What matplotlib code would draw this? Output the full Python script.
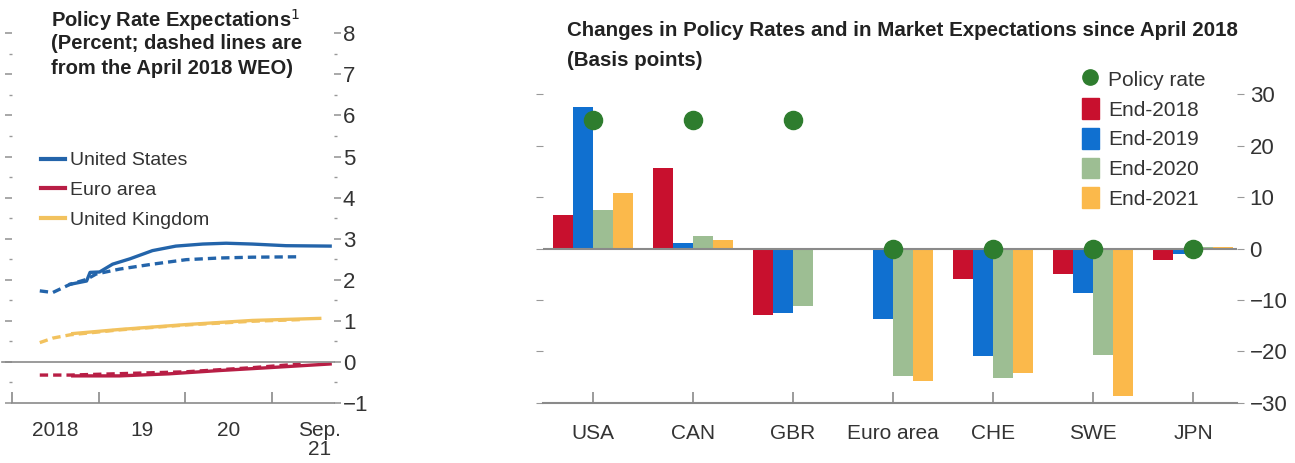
import matplotlib
matplotlib.use("Agg")
import matplotlib.pyplot as plt
from matplotlib.lines import Line2D
from matplotlib.patches import Patch

plt.rcParams['font.family'] = ['Liberation Sans', 'DejaVu Sans']

# left panel: policy rate expectations (percent), x in fractional years
us_solid_x = [2018.67, 2018.86, 2018.90, 2019.01, 2019.16, 2019.36, 2019.62, 2019.89,
              2020.20, 2020.47, 2020.77, 2021.16, 2021.67]
us_solid_y = [1.89, 1.97, 2.18, 2.19, 2.38, 2.51, 2.71, 2.82, 2.87, 2.89, 2.87, 2.83, 2.82]
us_dash_x = [2018.32, 2018.47, 2018.67, 2018.86, 2018.97, 2019.24, 2019.62, 2020.01,
             2020.39, 2020.77, 2021.33]
us_dash_y = [1.73, 1.69, 1.89, 2.01, 2.14, 2.26, 2.38, 2.49, 2.53, 2.55, 2.56]

uk_solid_x = [2018.70, 2019.24, 2020.01, 2020.77, 2021.55]
uk_solid_y = [0.69, 0.79, 0.91, 1.01, 1.06]
uk_dash_x = [2018.32, 2018.47, 2018.67, 2019.24, 2020.01, 2020.77, 2021.33]
uk_dash_y = [0.47, 0.58, 0.66, 0.78, 0.90, 0.99, 1.03]

ea_solid_x = [2018.70, 2019.24, 2019.81, 2020.39, 2020.96, 2021.67]
ea_solid_y = [-0.34, -0.34, -0.29, -0.21, -0.14, -0.05]
ea_dash_x = [2018.32, 2018.67, 2020.01, 2020.77, 2021.33]
ea_dash_y = [-0.32, -0.32, -0.24, -0.14, -0.05]

year_ticks = [2018, 2019, 2020, 2021]
year_label_pos = [2018.5, 2019.5, 2020.5, 2021.55]
year_labels = ["2018", "19", "20", "Sep.\n21"]

# right panel: changes since April 2018 (basis points)
countries = ["USA", "CAN", "GBR", "Euro area", "CHE", "SWE", "JPN"]
policy_rate = [25, 25, 25, 0, 0, 0, 0]
end_2018 = [6.6, 15.6, -12.9, -0.3, -6.0, -5.0, -2.3]
end_2019 = [27.5, 1.0, -12.6, -13.7, -20.8, -8.6, -1.0]
end_2020 = [7.5, 2.4, -11.2, -24.7, -25.2, -20.7, 0.2]
end_2021 = [10.8, 1.6, -0.3, -25.7, -24.1, -28.6, 0.3]

c_us, c_ea, c_uk = "#2364AA", "#B81E45", "#F2C25E"
c_red, c_blue, c_green, c_orange, c_dot = "#C8102E", "#1070D0", "#9DBE93", "#FBB94B", "#2E7D2E"
grey = "#8a8a8a"
txt = "#333333"

fig = plt.figure(figsize=(12.95, 4.63), dpi=100)

# ---- left panel
ax1 = fig.add_axes([0.0093, 0.1296, 0.249, 0.825])
ax1.plot(us_dash_x, us_dash_y, color=c_us, lw=2.4, ls=(0, (2.5, 1.5)))
ax1.plot(uk_dash_x, uk_dash_y, color=c_uk, lw=2.4, ls=(0, (2.5, 1.5)))
ax1.plot(ea_dash_x, ea_dash_y, color=c_ea, lw=2.4, ls=(0, (2.5, 1.5)))
ax1.plot(us_solid_x, us_solid_y, color=c_us, lw=2.4, label="United States")
ax1.plot(ea_solid_x, ea_solid_y, color=c_ea, lw=2.4, label="Euro area")
ax1.plot(uk_solid_x, uk_solid_y, color=c_uk, lw=2.4, label="United Kingdom")
ax1.axhline(0, xmin=-0.03, color=grey, lw=1.2, clip_on=False)
ax1.set_xlim(2018, 2021.72)
ax1.set_ylim(-1, 8.3)
for s in ["top", "left", "right"]:
    ax1.spines[s].set_visible(False)
ax1.spines["bottom"].set_color(grey)
ax1.spines["bottom"].set_linewidth(1.2)
ax1.set_xticks(year_ticks)
ax1.set_xticklabels([])
ax1.set_xticks(year_label_pos, minor=True)
ax1.set_xticklabels(year_labels, minor=True, fontsize=15, color=txt, va="top",
                    linespacing=1.0)
ax1.tick_params(axis="x", which="major", direction="in", length=8, color=grey, width=1.2)
ax1.tick_params(axis="x", which="minor", length=0, pad=13)
ax1.set_yticks(range(-1, 9))
ax1.set_yticks([i + 0.5 for i in range(-1, 8)], minor=True)
ax1.yaxis.tick_right()
ax1.tick_params(axis="y", which="both", left=True, right=True, labelleft=False,
                direction="out", color="#999999")
ax1.tick_params(axis="y", which="major", length=5, width=1.2, labelsize=16, labelcolor=txt, pad=1)
ax1.tick_params(axis="y", which="minor", length=2, width=1)
ax1.set_yticklabels(["\u22121"] + [str(i) for i in range(0, 9)])
ax1.legend(loc="upper left", bbox_to_anchor=(0.065, 0.678), frameon=False, fontsize=14,
           handlelength=1.25, handletextpad=0.25, labelspacing=0.62, labelcolor=txt,
           borderaxespad=0)
for h in ax1.get_legend().get_lines():
    h.set_linewidth(3)

fig.text(0.039, 0.957, "Policy Rate Expectations$^1$", fontsize=14.5, fontweight="bold",
         color="#222222", va="center")
fig.text(0.039, 0.905, "(Percent; dashed lines are", fontsize=14.5, fontweight="bold",
         color="#222222", va="center")
fig.text(0.039, 0.852, "from the April 2018 WEO)", fontsize=14.5, fontweight="bold",
         color="#222222", va="center")

# ---- right panel
ax2 = fig.add_axes([0.4193, 0.1296, 0.536, 0.7007])
xs = list(range(len(countries)))
w = 0.2
series = [(end_2018, c_red, "End-2018"), (end_2019, c_blue, "End-2019"),
          (end_2020, c_green, "End-2020"), (end_2021, c_orange, "End-2021")]
for k, (vals, col, lab) in enumerate(series):
    ax2.bar([x + (k - 1.5) * w for x in xs], vals, width=w, color=col, label=lab)
ax2.axhline(0, color=grey, lw=1.5, zorder=3)
ax2.scatter(xs, policy_rate, s=170, color=c_dot, zorder=4, label="Policy rate")
ax2.set_xlim(-0.5, 6.44)
ax2.set_ylim(-30, 33)
for s in ["top", "left", "right"]:
    ax2.spines[s].set_visible(False)
ax2.spines["bottom"].set_color(grey)
ax2.spines["bottom"].set_linewidth(1.5)
ax2.set_xticks(xs)
ax2.set_xticklabels(countries, fontsize=15, color=txt)
ax2.tick_params(axis="x", direction="in", length=8, color=grey, width=1.2, pad=15)
ax2.set_yticks([-30, -20, -10, 0, 10, 20, 30])
ax2.set_yticklabels(["\u221230", "\u221220", "\u221210", "0", "10", "20", "30"])
ax2.yaxis.tick_right()
ax2.tick_params(axis="y", left=True, right=True, labelleft=False, direction="out",
                length=5, color="#999999", labelsize=16, labelcolor=txt, pad=4)

handles = [Line2D([], [], marker="o", ls="none", color=c_dot, markersize=11, label="Policy rate"),
           Patch(color=c_red, label="End-2018"), Patch(color=c_blue, label="End-2019"),
           Patch(color=c_green, label="End-2020"), Patch(color=c_orange, label="End-2021")]
fig.legend(handles=handles, loc="upper left", bbox_to_anchor=(0.829, 0.87), frameon=False,
           fontsize=15, handlelength=0.8, handleheight=1.15, handletextpad=0.45,
           labelspacing=0.4, labelcolor=txt, borderaxespad=0)

fig.text(0.438, 0.935, "Changes in Policy Rates and in Market Expectations since April 2018",
         fontsize=14.8, fontweight="bold", color="#222222", va="center")
fig.text(0.438, 0.870, "(Basis points)", fontsize=14.8, fontweight="bold",
         color="#222222", va="center")

fig.savefig("out.png", dpi=100)
